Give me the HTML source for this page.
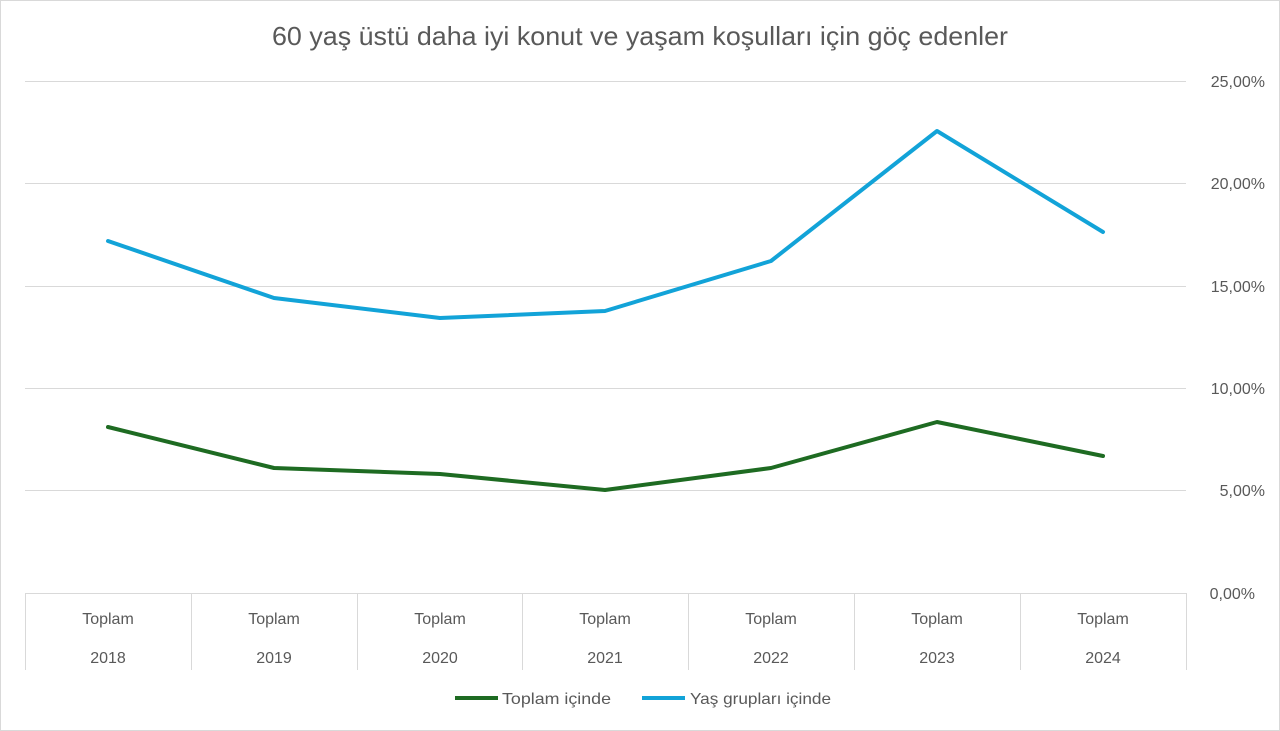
<!DOCTYPE html>
<html><head><meta charset="utf-8"><style>
html,body{margin:0;padding:0;background:#fff;}
svg{display:block;font-family:"Liberation Sans",Arial,sans-serif;}
</style></head><body>
<svg width="1280" height="731" viewBox="0 0 1280 731">
<rect x="0.5" y="0.5" width="1279" height="730" fill="#fff" stroke="#d9d9d9"/>
<text x="272" y="45" font-size="26" fill="#595959" textLength="736" lengthAdjust="spacingAndGlyphs">60 yaş üstü daha iyi konut ve yaşam koşulları için göç edenler</text>
<g stroke="#d9d9d9" stroke-width="1">
<line x1="25" x2="1186" y1="81.5" y2="81.5"/>
<line x1="25" x2="1186" y1="183.5" y2="183.5"/>
<line x1="25" x2="1186" y1="286.5" y2="286.5"/>
<line x1="25" x2="1186" y1="388.5" y2="388.5"/>
<line x1="25" x2="1186" y1="490.5" y2="490.5"/>
<line x1="25" x2="1186" y1="593.5" y2="593.5"/>
<line x1="25.5" x2="25.5" y1="593" y2="670"/>
<line x1="191.5" x2="191.5" y1="593" y2="670"/>
<line x1="357.5" x2="357.5" y1="593" y2="670"/>
<line x1="522.5" x2="522.5" y1="593" y2="670"/>
<line x1="688.5" x2="688.5" y1="593" y2="670"/>
<line x1="854.5" x2="854.5" y1="593" y2="670"/>
<line x1="1020.5" x2="1020.5" y1="593" y2="670"/>
<line x1="1186.5" x2="1186.5" y1="593" y2="670"/>
</g>
<g font-size="16" fill="#595959" text-anchor="end">
<text x="1265" y="87">25,00%</text>
<text x="1265" y="189">20,00%</text>
<text x="1265" y="292">15,00%</text>
<text x="1265" y="394">10,00%</text>
<text x="1265" y="496">5,00%</text>
<text x="1255" y="599">0,00%</text>
</g>
<g font-size="16" fill="#595959" text-anchor="middle">
<text x="108" y="624">Toplam</text><text x="108" y="663">2018</text>
<text x="274" y="624">Toplam</text><text x="274" y="663">2019</text>
<text x="440" y="624">Toplam</text><text x="440" y="663">2020</text>
<text x="605" y="624">Toplam</text><text x="605" y="663">2021</text>
<text x="771" y="624">Toplam</text><text x="771" y="663">2022</text>
<text x="937" y="624">Toplam</text><text x="937" y="663">2023</text>
<text x="1103" y="624">Toplam</text><text x="1103" y="663">2024</text>
</g>
<polyline fill="none" stroke="#12a3d8" stroke-width="4" stroke-linejoin="round" stroke-linecap="round" points="108,241 274,298 440,318 605,311 771,261 937,131 1103,232"/>
<polyline fill="none" stroke="#1e6b22" stroke-width="4" stroke-linejoin="round" stroke-linecap="round" points="108,427 274,468 440,474 605,490 771,468 937,422 1103,456"/>
<line x1="455" x2="498" y1="698" y2="698" stroke="#1e6b22" stroke-width="4"/>
<text x="502" y="704" font-size="16" fill="#595959" textLength="109" lengthAdjust="spacingAndGlyphs">Toplam içinde</text>
<line x1="642" x2="685" y1="698" y2="698" stroke="#12a3d8" stroke-width="4"/>
<text x="690" y="704" font-size="16" fill="#595959" textLength="141" lengthAdjust="spacingAndGlyphs">Yaş grupları içinde</text>
</svg>
</body></html>
